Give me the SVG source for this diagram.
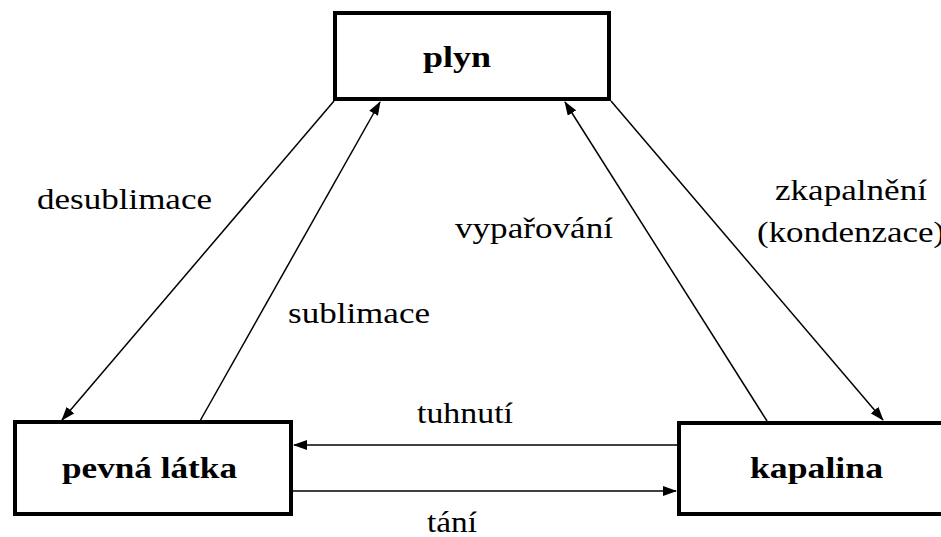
<svg xmlns="http://www.w3.org/2000/svg" width="941" height="537" viewBox="0 0 941 537">
<style>
.box{fill:#fff;stroke:#000;stroke-width:4}
.node{font-weight:bold;font-size:30px;fill:#000}
.lbl{font-size:30px;fill:#000}
.edge{stroke:#000;stroke-width:1.5;fill:none;marker-end:url(#ah)}
</style>
<defs>
<marker id="ah" markerWidth="14" markerHeight="10" refX="13" refY="5" orient="auto" markerUnits="userSpaceOnUse">
<path d="M0,0 L14,5 L0,10 Z" fill="#000"/>
</marker>
</defs>
<rect width="941" height="537" fill="#fff"/>
<g id="connectors">
<line class="edge" x1="334" y1="101" x2="62" y2="420"/>
<line class="edge" x1="200" y1="421" x2="380" y2="102"/>
<line class="edge" x1="767" y1="421" x2="565" y2="102"/>
<line class="edge" x1="611" y1="101" x2="883" y2="420"/>
<line class="edge" x1="677" y1="445" x2="294" y2="445"/>
<line class="edge" x1="293" y1="491" x2="676" y2="491"/>
</g>
<g id="labels" font-family="'Liberation Serif', 'Times New Roman', Times, serif">
<text class="lbl" x="37" y="209" textLength="175" lengthAdjust="spacingAndGlyphs">desublimace</text>
<text class="lbl" x="288" y="323" textLength="142" lengthAdjust="spacingAndGlyphs">sublimace</text>
<text class="lbl" x="455" y="238" textLength="158" lengthAdjust="spacingAndGlyphs">vypařování</text>
<text class="lbl" x="775" y="200" textLength="152" lengthAdjust="spacingAndGlyphs">zkapalnění</text>
<text class="lbl" x="757" y="242" textLength="188" lengthAdjust="spacingAndGlyphs">(kondenzace)</text>
<text class="lbl" x="417" y="423" textLength="96" lengthAdjust="spacingAndGlyphs">tuhnutí</text>
<text class="lbl" x="427" y="532" textLength="50" lengthAdjust="spacingAndGlyphs">tání</text>
</g>
<g id="plyn" font-family="'Liberation Serif', 'Times New Roman', Times, serif">
<rect class="box" x="335" y="13" width="274" height="86"/>
<text class="node" x="423" y="67" textLength="68" lengthAdjust="spacingAndGlyphs">plyn</text>
</g>
<g id="pevna-latka" font-family="'Liberation Serif', 'Times New Roman', Times, serif">
<rect class="box" x="15" y="422" width="276" height="92"/>
<text class="node" x="62" y="478" textLength="175" lengthAdjust="spacingAndGlyphs">pevná látka</text>
</g>
<g id="kapalina" font-family="'Liberation Serif', 'Times New Roman', Times, serif">
<rect class="box" x="679" y="423" width="272" height="91"/>
<text class="node" x="750" y="478" textLength="133" lengthAdjust="spacingAndGlyphs">kapalina</text>
</g>
</svg>
